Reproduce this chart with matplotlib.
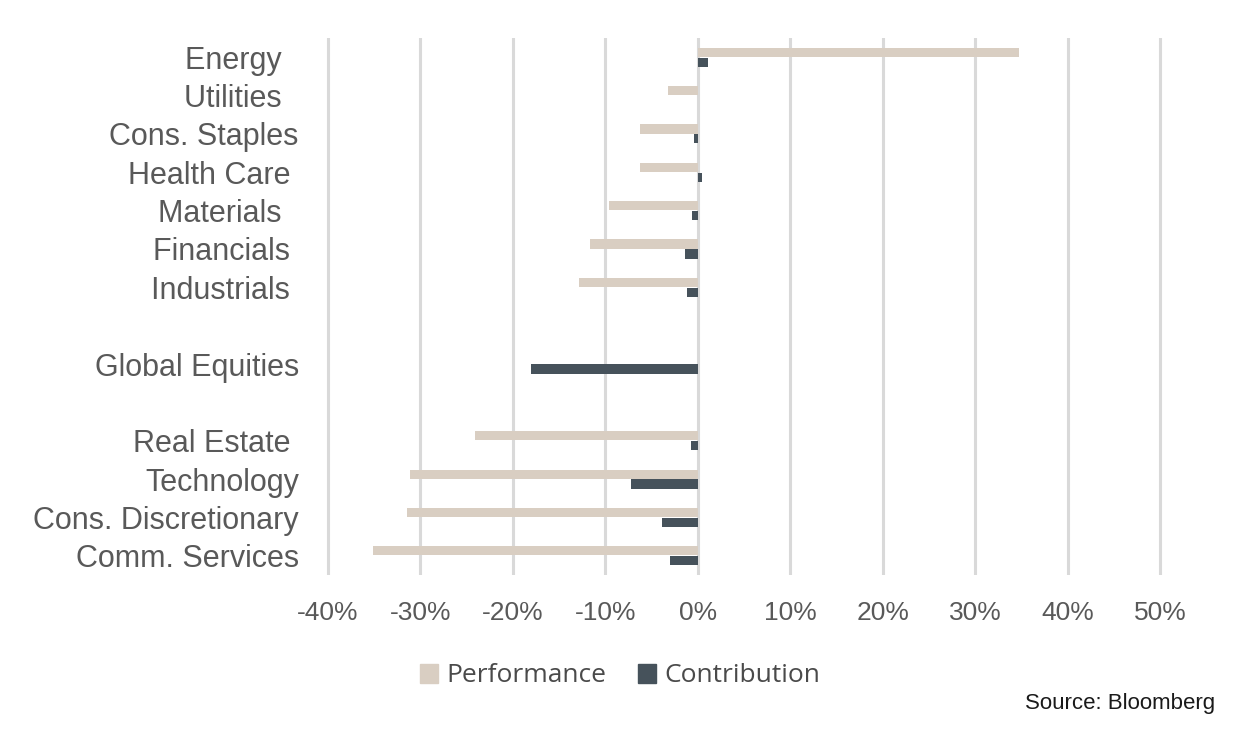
import numpy as np
import matplotlib.pyplot as plt
from matplotlib.patches import Patch

# sector labels, top to bottom (blank slots are gaps in the chart)
labels = ["Energy  ", "Utilities  ", "Cons. Staples", "Health Care ", "Materials  ",
          "Financials ", "Industrials ", "", "Global Equities", "",
          "Real Estate ", "Technology", "Cons. Discretionary", "Comm. Services"]
performance = [34.7, -3.2, -6.2, -6.2, -9.6, -11.7, -12.8, np.nan, np.nan, np.nan,
               -24.1, -31.1, -31.5, -35.1]
contribution = [1.1, 0.0, -0.4, 0.5, -0.6, -1.4, -1.2, np.nan, -18.0, np.nan,
                -0.7, -7.2, -3.9, -3.0]
ticks = [-40, -30, -20, -10, 0, 10, 20, 30, 40, 50]

perf_color = "#d9cec2"
contrib_color = "#46525b"
text_color = "#595959"

fig = plt.figure(figsize=(12.49, 7.53), dpi=100)
ax = fig.add_axes([325.2 / 1249, 1 - 575 / 753, 837.6 / 1249, (575 - 38) / 753])

y = np.arange(len(labels))
h = 0.24
ax.barh(y - 0.13, performance, height=h, color=perf_color, zorder=2)
ax.barh(y + 0.13, contribution, height=h, color=contrib_color, zorder=2)

ax.set_ylim(len(labels) - 0.5, -0.5)
ax.set_yticks(y)
ax.set_yticklabels(labels, fontsize=22, color=text_color, family="Liberation Sans")
ax.set_xlim(-40.3, 50.3)
ax.set_xticks(ticks)
ax.set_xticklabels([f"{t}%" for t in ticks], fontsize=19, color=text_color,
                   family="Liberation Sans")
ax.tick_params(axis="y", length=0, pad=19)
ax.tick_params(axis="x", length=0, pad=19)
ax.grid(axis="x", color="#d9d9d9", linewidth=2.2, zorder=0)
for s in ax.spines.values():
    s.set_visible(False)

handles = [Patch(color=perf_color, label="Performance"),
           Patch(color=contrib_color, label="Contribution")]
fig.legend(handles=handles, loc="center", bbox_to_anchor=(620 / 1249, 1 - 676 / 753),
           ncol=2, frameon=False, handlelength=0.7, handleheight=0.7,
           handletextpad=0.3, columnspacing=1.2,
           prop={"family": "Open Sans", "size": 19, "weight": "medium"},
           labelcolor="#4a4a4a")

fig.text(1215 / 1249, 1 - 704 / 753, "Source: Bloomberg", ha="right", va="center",
         fontsize=16, color="#1a1a1a", family="Liberation Sans")

fig.savefig("out.png", dpi=100)
